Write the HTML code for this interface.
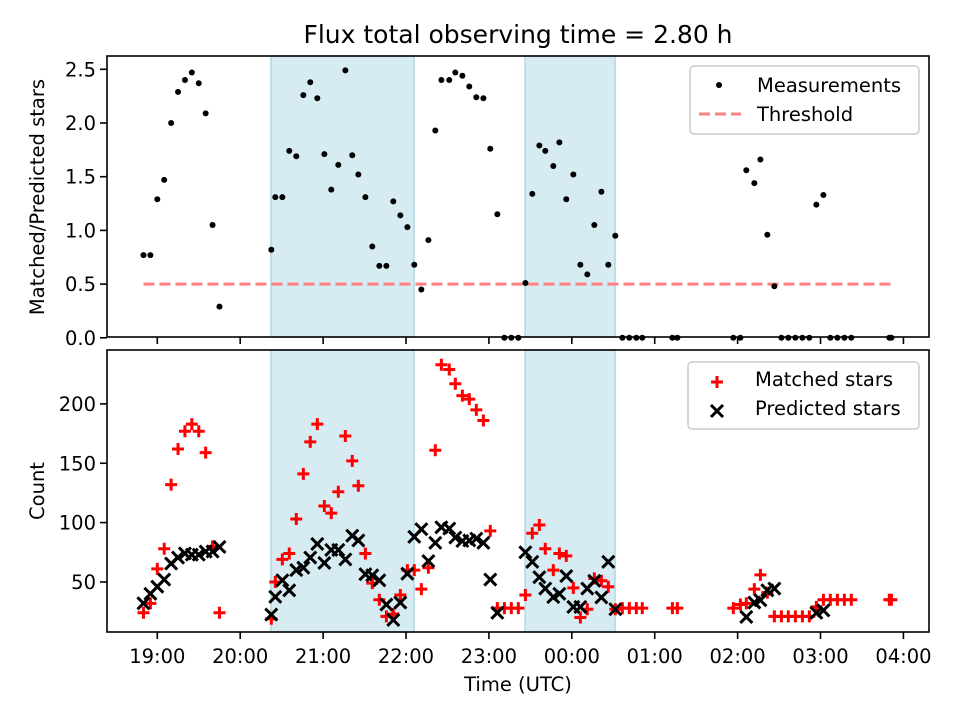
<!DOCTYPE html>
<html><head><meta charset="utf-8"><style>
html,body{margin:0;padding:0;background:#fff;}
svg{display:block;font-family:"DejaVu Sans","Liberation Sans",sans-serif;}
</style></head><body>
<svg id="chart" width="960" height="720" viewBox="0 0 960 720" xmlns="http://www.w3.org/2000/svg">
<rect width="960" height="720" fill="#fff"/>
<text x="518" y="43" font-size="25" text-anchor="middle" fill="#000">Flux total observing time = 2.80 h</text>
<g id="topPanel"></g>
<g id="botPanel"></g>
</svg>
<script>
// times in minutes after 18:00 UTC
const ratioT = [50,55,60,65,70,75,80,85,90,95,100,105,142.5,145.4,150.5,155.5,160.6,165.7,170.7,175.8,180.9,185.9,191.0,196.1,201.1,205.5,210.6,215.6,220.7,225.8,230.8,235.9,241.0,246.0,251.1,256.2,261.2,265.6,271.3,275.7,280.8,285.8,290.9,296.0,301.0,306.1,311.2,316.2,321.3,326.4,331.4,336.5,340.8,346.6,351.0,356.0,361.1,366.2,371.2,376.3,381.4,386.4,391.5,396.6,401.6,406.7,411.0,432.8,436.4,476.9,482.0,486.3,492.1,496.5,501.5,506.6,511.7,516.7,521.8,526.9,531.9,537.0,542.1,547.1,552.2,557.3,562.3,589.8,591.3];
const ratioV = [0.77,0.77,1.29,1.47,2.00,2.29,2.40,2.47,2.37,2.09,1.05,0.29,0.82,1.31,1.31,1.74,1.69,2.26,2.38,2.23,1.71,1.38,1.61,2.49,1.70,1.52,1.31,0.85,0.67,0.67,1.27,1.14,1.03,0.68,0.45,0.91,1.93,2.40,2.40,2.47,2.44,2.34,2.24,2.23,1.76,1.15,0,0,0,0.51,1.34,1.79,1.74,1.60,1.82,1.29,1.52,0.68,0.59,1.05,1.36,0.68,0.95,0,0,0,0,0,0,0,0,1.56,1.44,1.66,0.96,0.48,0,0,0,0,0,1.24,1.33,0,0,0,0,0,0];
const matchedV = [24,32,61,78,132,162,177,183,177,159,80,24,19,50,69,74,103,141,168,183,114,108,126,173,152,131,74,49,35,21,23,39,60,60,44,62,161,233,229,217,207,204,195,186,93,28,28,28,28,39,91,98,78,60,74,72,45,20,27,53,51,46,27,28,28,28,28,28,28,28,31,32,44,56,41,21,21,21,21,21,21,29,35,35,35,35,35,35,35];
const predT = [50,55,60,65,70,75,80,85,90,95,100,105,142.5,145.4,150.5,155.5,160.6,165.7,170.7,175.8,180.9,185.9,191.0,196.1,201.1,205.5,210.6,215.6,220.7,225.8,230.8,235.9,241.0,246.0,251.1,256.2,261.2,265.6,271.3,275.7,280.8,285.8,290.9,296.0,301.0,306.1,326.4,331.4,336.5,340.8,346.6,351.0,356.0,361.1,366.2,371.2,376.3,381.4,386.4,391.5,486.3,492.1,496.5,501.5,506.6,537.0,542.1];
const predV = [32,40,46,52,65.5,70.5,74,73,73,75.6,75.6,79.5,22.5,37.5,51.4,43,60,62,70.5,82,66,77,77,69,89,85,56.5,55.6,51.4,31,18,32.6,57,88,94.4,67.6,83,96,95,87.4,84.5,85,86.5,83,52,24,75,67,54,44.4,37.3,40,55,29,29,44.4,51,37,67,27,20.5,32.6,34.6,43,44.4,24,26];
const shadeStart = [142.3,326.2];
const shadeEnd = [245.8,391.3];
const threshold = [0.5];
const thresholdRange = [50,591.3];
const xTicks = [60,120,180,240,300,360,420,480,540,600];
const yTicksTop = [0,0.5,1.0,1.5,2.0,2.5];
const yTicksBot = [50,100,150,200];

const NS="http://www.w3.org/2000/svg";
const L=107,R=929;
const TT=56,TB=337,BT=350,BB=632;
const xs=m=>157.3+(m-60)*1.3817;
const yTop=v=>337.8-v*107.4;
const yBot=v=>641.3-v*1.187;
function mk(tag,attrs,parent){const e=document.createElementNS(NS,tag);for(const k in attrs)e.setAttribute(k,attrs[k]);parent.appendChild(e);return e;}
const topG=document.getElementById('topPanel'), botG=document.getElementById('botPanel');

function panel(g,T,B,yf,ticks,fmt,label,labelY){
  for(let i=0;i<shadeStart.length;i++){
    const r=mk('rect',{x:xs(shadeStart[i]),y:T,width:xs(shadeEnd[i])-xs(shadeStart[i]),height:B-T,fill:'#add8e6','fill-opacity':0.5,stroke:'#add8e6','stroke-width':1.5},g);
    
    
  }
  for(const t of ticks){
    const tl=mk('line',{x1:L-7,x2:L,y1:yf(t),y2:yf(t),stroke:'#000','stroke-width':1.6},g);
    
    
    const tx=mk('text',{x:L-11,y:yf(t)+7,'font-size':19.5,'text-anchor':'end',fill:'#000'},g);
    tx.textContent=fmt(t);
    
    
  }
  for(const t of xTicks){
    const tl=mk('line',{x1:xs(t),x2:xs(t),y1:B,y2:B+7,stroke:'#000','stroke-width':1.6},g);
    
    
  }
  const yl=mk('text',{transform:`translate(44,${labelY}) rotate(-90)`,'font-size':19.5,'text-anchor':'middle',fill:'#000'},g);
  yl.textContent=label;
  
  
}
panel(topG,TT,TB,yTop,yTicksTop,v=>v.toFixed(1),'Matched/Predicted stars',197);
panel(botG,BT,BB,yBot,yTicksBot,v=>String(v),'Count',491);

const th=mk('line',{x1:xs(thresholdRange[0]),x2:xs(thresholdRange[1]),y1:yTop(threshold[0]),y2:yTop(threshold[0]),stroke:'#ff8080','stroke-width':3,'stroke-dasharray':'11 5'},topG);


for(let i=0;i<ratioT.length;i++){
  const c=mk('circle',{cx:xs(ratioT[i]),cy:yTop(ratioV[i]),r:3,fill:'#000'},topG);
  
  
}
for(let i=0;i<ratioT.length;i++){
  const cx=xs(ratioT[i]),cy=yBot(matchedV[i]),s=6;
  const p=mk('path',{d:`M${cx-s},${cy}H${cx+s}M${cx},${cy-s}V${cy+s}`,stroke:'#ff0000','stroke-width':3,fill:'none'},botG);
  
  
}
for(let i=0;i<predT.length;i++){
  const cx=xs(predT[i]),cy=yBot(predV[i]),s=6;
  const p=mk('path',{d:`M${cx-s},${cy-s}L${cx+s},${cy+s}M${cx-s},${cy+s}L${cx+s},${cy-s}`,stroke:'#000','stroke-width':3,fill:'none'},botG);
  
  
}
for(const [g,T,B] of [[topG,TT,TB],[botG,BT,BB]]){
  const f=mk('rect',{x:L,y:T,width:R-L,height:B-T,fill:'none',stroke:'#000','stroke-width':1.6},g);
  
  
}
for(const t of xTicks){
  const h=(18+Math.floor(t/60))%24;
  const tx=mk('text',{x:xs(t),y:663,'font-size':19.5,'text-anchor':'middle',fill:'#000'},botG);
  tx.textContent=String(h).padStart(2,'0')+':00';
  
  
}
const xl=mk('text',{x:518,y:691,'font-size':19.5,'text-anchor':'middle',fill:'#000'},botG);
xl.textContent='Time (UTC)';



const lg1=mk('g',{},topG);


mk('rect',{x:690,y:66,width:229,height:68,rx:4,fill:'#fff','fill-opacity':0.8,stroke:'#ccc','stroke-width':1.5},lg1);
const lm=mk('circle',{cx:719,cy:85,r:3,fill:'#000'},lg1);


const lt1=mk('text',{x:757,y:92,'font-size':19.5,fill:'#000'},lg1);
lt1.textContent='Measurements';


const ll=mk('line',{x1:699,x2:741,y1:114,y2:114,stroke:'#ff8080','stroke-width':3,'stroke-dasharray':'11 5'},lg1);


const lt2=mk('text',{x:757,y:121,'font-size':19.5,fill:'#000'},lg1);
lt2.textContent='Threshold';



const lg2=mk('g',{},botG);


mk('rect',{x:688,y:362,width:231,height:67,rx:4,fill:'#fff','fill-opacity':0.8,stroke:'#ccc','stroke-width':1.5},lg2);
const pm=mk('path',{d:'M711,382H723M717,376V388',stroke:'#ff0000','stroke-width':3},lg2);


const lt3=mk('text',{x:755,y:386,'font-size':19.5,fill:'#000'},lg2);
lt3.textContent='Matched stars';


const xm=mk('path',{d:'M711,405L723,417M711,417L723,405',stroke:'#000','stroke-width':3},lg2);


const lt4=mk('text',{x:755,y:415,'font-size':19.5,fill:'#000'},lg2);
lt4.textContent='Predicted stars';


</script>
</body></html>
